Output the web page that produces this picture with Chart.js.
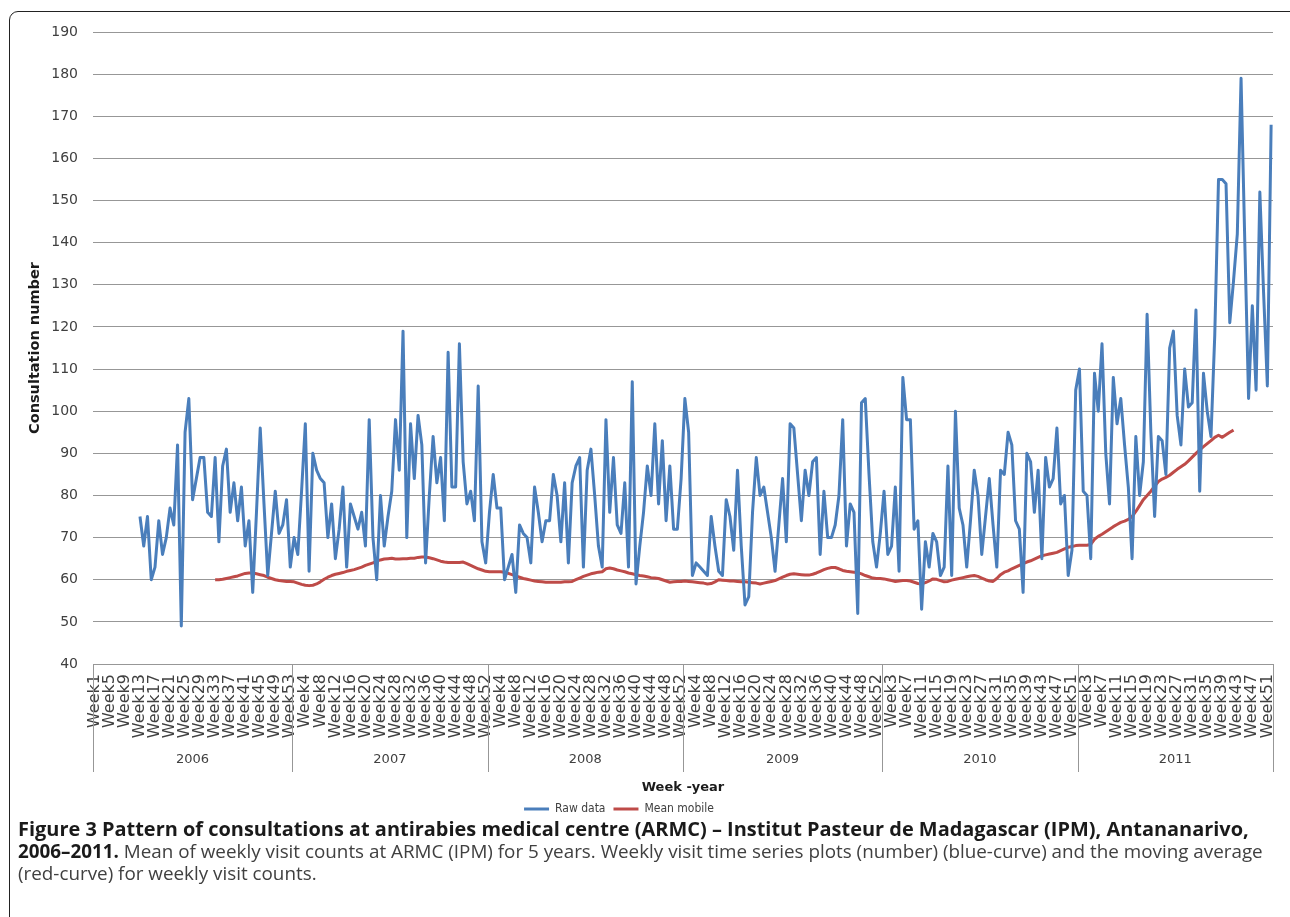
<!DOCTYPE html>
<html><head><meta charset="utf-8">
<script src="https://cdn.jsdelivr.net/npm/chart.js@4.4.1/dist/chart.umd.min.js"></script>
<style>
html,body{margin:0;padding:0;background:#fff;}
body{width:1290px;height:917px;position:relative;overflow:hidden;}
#wrap{position:absolute;left:0;top:0;width:1290px;height:917px;}
#frame{position:absolute;left:9px;top:11px;width:1300px;height:940px;border:1.5px solid #222;border-radius:9px;box-sizing:border-box;}
.cap{position:absolute;left:18px;font-family:'Open Sans',Lato,sans-serif;font-size:17px;line-height:22px;color:#404040;white-space:nowrap;}
.cap b{color:#1a1a1a;font-weight:700;}
</style></head><body>
<div id="frame"></div>
<div id="wrap"><canvas id="c" width="1290" height="917"></canvas></div>
<div class="cap" id="l1" data-w="1232" style="top:818px;"><b>Figure 3 Pattern of consultations at antirabies medical centre (ARMC) – Institut Pasteur de Madagascar (IPM), Antananarivo,</b></div>
<div class="cap" id="l2" data-w="1245" style="top:840px;"><b>2006–2011.</b> Mean of weekly visit counts at ARMC (IPM) for 5 years. Weekly visit time series plots (number) (blue-curve) and the moving average</div>
<div class="cap" id="l3" style="top:862px;">(red-curve) for weekly visit counts.</div>
<script>
// ---- categories ----
const years = ['2006', '2007', '2008', '2009', '2010', '2011'];
const weeksPerYear = [53, 52, 52, 53, 52, 52];

// ---- Raw data (weekly consultations) ----
const raw2006 = [null, null, null, null, null, null, null, null, null, null, null, null,
  75, 68, 75, 60, 63, 74, 66, 70, 77, 73, 92, 49, 95, 103, 79, 84, 89, 89, 76, 75, 89, 69, 87, 91,
  76, 83, 74, 82, 68, 74, 57, 76, 96, 78, 61, 71, 81, 71, 73, 79, 63];
const raw2007 = [70, 66, 81, 97, 62, 90, 86, 84, 83, 70, 78, 65, 72, 82, 63, 78, 75, 72, 76, 68,
  98, 70, 60, 80, 68, 75, 81, 98, 86, 119, 70, 97, 84, 99, 92, 64, 80, 94, 83, 89,
  74, 114, 82, 82, 116, 88, 78, 81, 74, 106, 69, 64];
const raw2008 = [76, 85, 77, 77, 60, 63, 66, 57, 73, 71, 70, 64, 82, 76, 69, 74, 74, 85, 80, 69,
  83, 64, 83, 87, 89, 63, 86, 91, 80, 68, 63, 98, 76, 89, 73, 71, 83, 63, 107, 59,
  68, 76, 87, 80, 97, 78, 93, 74, 87, 72, 72, 84];
const raw2009 = [103, 95, 61, 64, 63, 62, 61, 75, 68, 62, 61, 79, 75, 67, 86, 68, 54, 56, 76, 89,
  80, 82, 76, 70, 62, 73, 84, 69, 97, 96, 85, 74, 86, 80, 88, 89, 66, 81, 70, 70,
  73, 80, 98, 68, 78, 76, 52, 102, 103, 85, 69, 63, 71];
const raw2010 = [81, 66, 68, 82, 62, 108, 98, 98, 72, 74, 53, 69, 63, 71, 69, 61, 63, 87, 61, 100,
  77, 73, 63, 74, 86, 80, 66, 75, 84, 73, 63, 86, 85, 95, 92, 74, 72, 57, 90, 88,
  76, 86, 65, 89, 82, 84, 96, 78, 80, 61, 67, 105];
const raw2011 = [110, 81, 80, 65, 109, 100, 116, 90, 78, 108, 97, 103, 92, 82, 65, 94, 80, 88, 123, 95,
  75, 94, 93, 85, 115, 119, 99, 92, 110, 101, 102, 124, 81, 109, 100, 94, 118, 155, 155, 154,
  121, 131, 142, 179, 140, 103, 125, 105, 152, 128, 106, 168];

// ---- Mean mobile (moving average) ----
const mean2006 = [null, null, null, null, null, null, null, null, null, null, null, null, null, null, null, null,
  null, null, null, null, null, null, null, null, null, null, null, null, null, null, null, null,
  60, 60, 60.1, 60.3, 60.5, 60.7, 60.9, 61.2, 61.5, 61.6, 61.6, 61.4, 61.2, 61, 60.6, 60.3, 60, 59.8, 59.7, 59.6, 59.6];
const mean2007 = [59.5, 59.2, 58.9, 58.7, 58.6, 58.7, 59.0, 59.5, 60.1, 60.6, 61.0, 61.3, 61.5, 61.7, 62.0, 62.2, 62.4, 62.7, 63.0, 63.4,
  63.7, 64.0, 64.4, 64.7, 64.9, 65.0, 65.1, 64.9, 64.9, 65.0, 65.0, 65.1, 65.1, 65.3, 65.4, 65.4, 65.2, 65.0, 64.7, 64.4,
  64.2, 64.1, 64.1, 64.1, 64.1, 64.2, 63.8, 63.4, 63.0, 62.6, 62.3, 62.0];
const mean2008 = [61.9, 61.9, 61.9, 61.9, 61.8, 61.5, 61.2, 60.9, 60.6, 60.3, 60.1, 59.9, 59.7, 59.6, 59.5, 59.4, 59.4, 59.4, 59.4, 59.4,
  59.5, 59.5, 59.6, 60.0, 60.4, 60.8, 61.1, 61.4, 61.6, 61.8, 61.9, 62.6, 62.8, 62.6, 62.3, 62.1, 61.9, 61.6, 61.4, 61.2,
  61.0, 60.9, 60.7, 60.5, 60.4, 60.3, 60.0, 59.7, 59.4, 59.5, 59.6, 59.6];
const mean2009 = [59.7, 59.6, 59.5, 59.4, 59.3, 59.2, 59.0, 59.1, 59.5, 60.0, 59.9, 59.8, 59.7, 59.7, 59.6, 59.5, 59.5, 59.4, 59.3, 59.2,
  59.0, 59.2, 59.4, 59.6, 59.8, 60.2, 60.6, 61.0, 61.3, 61.4, 61.3, 61.2, 61.1, 61.1, 61.3, 61.6, 62.0, 62.4, 62.7, 62.9,
  62.9, 62.6, 62.2, 62.0, 61.9, 61.8, 61.7, 61.4, 61.0, 60.7, 60.4, 60.3, 60.3];
const mean2010 = [60.2, 60.0, 59.8, 59.6, 59.7, 59.8, 59.8, 59.7, 59.4, 59.1, 59.0, 59.3, 59.7, 60.2, 60.1, 59.8, 59.5, 59.6, 59.9, 60.1,
  60.3, 60.5, 60.7, 60.9, 61.0, 60.8, 60.4, 60.0, 59.7, 59.6, 60.3, 61.2, 61.8, 62.1, 62.6, 63.0, 63.4, 63.8, 64.2, 64.5,
  64.9, 65.3, 65.7, 65.9, 66.1, 66.3, 66.5, 66.9, 67.3, 67.7, 67.9, 68.1];
const mean2011 = [68.2, 68.2, 68.2, 68.4, 69.6, 70.3, 70.8, 71.4, 72.0, 72.6, 73.1, 73.6, 73.9, 74.3, 75.0, 76.2, 77.6, 79.0, 80.0, 81.0,
  82.2, 83.3, 83.9, 84.3, 84.8, 85.5, 86.2, 86.8, 87.4, 88.2, 89.1, 90.0, 90.8, 91.6, 92.3, 93.0, 93.8, 94.3, 93.8, 94.4,
  95.0, 95.5, null, null, null, null, null, null, null, null, null, null];

// ---- y tick range ----
const yMin = 40, yMax = 190, yStep = 10;

// ---- assemble ----
const weekLabels = [];
weeksPerYear.forEach(n => { for (let w = 1; w <= n; w++) weekLabels.push('Week' + w); });
const rawData = [].concat(raw2006, raw2007, raw2008, raw2009, raw2010, raw2011);
const meanData = [].concat(mean2006, mean2007, mean2008, mean2009, mean2010, mean2011);

const GRID = '#979797';
const TXT = '#404040';

const yearRow = {
  id: 'yearRow',
  afterLayout(chart) {
    // legend sits left of the plot centre, as in the figure
    if (chart.legend) { chart.legend.left -= 31; chart.legend.right -= 31; }
  },
  afterDraw(chart) {
    const xs = chart.scales.x, ca = chart.chartArea, ctx = chart.ctx;
    const n = weekLabels.length;
    const cw = xs.getPixelForValue(1) - xs.getPixelForValue(0);
    const edge = i => (i < n ? xs.getPixelForValue(i) - cw / 2 : xs.getPixelForValue(n - 1) + cw / 2);
    const bounds = [0];
    weeksPerYear.forEach(w => bounds.push(bounds[bounds.length - 1] + w));
    ctx.save();
    ctx.strokeStyle = GRID;
    ctx.lineWidth = 1;
    bounds.forEach(b => {
      const x = Math.round(edge(b)) + 0.5;
      ctx.beginPath();
      ctx.moveTo(x, ca.bottom);
      ctx.lineTo(x, ca.bottom + 108);
      ctx.stroke();
    });
    ctx.fillStyle = TXT;
    ctx.font = '13px "DejaVu Sans"';
    ctx.textAlign = 'center';
    ctx.textBaseline = 'middle';
    years.forEach((y, k) => {
      ctx.fillText(y, (edge(bounds[k]) + edge(bounds[k + 1])) / 2, ca.bottom + 96);
    });
    ctx.restore();
  }
};

new Chart(document.getElementById('c'), {
  type: 'line',
  data: {
    labels: weekLabels,
    datasets: [
      { label: 'Raw data', data: rawData, borderColor: '#4A7EBB', backgroundColor: '#4A7EBB',
        borderWidth: 3, pointRadius: 0, tension: 0, borderJoinStyle: 'round', spanGaps: false },
      { label: 'Mean mobile', data: meanData, borderColor: '#BE4B48', backgroundColor: '#BE4B48',
        borderWidth: 3, pointRadius: 0, tension: 0, borderJoinStyle: 'round', spanGaps: false }
    ]
  },
  options: {
    responsive: false,
    animation: false,
    devicePixelRatio: 1,
    layout: { padding: { left: 27, right: 17, top: 32, bottom: 92 } },
    plugins: {
      tooltip: { enabled: false },
      legend: {
        position: 'bottom',
        labels: {
          usePointStyle: true, pointStyle: 'line', pointStyleWidth: 25,
          color: TXT, padding: 8,
          font: { family: '"Liberation Sans Narrow", "DejaVu Sans Condensed", "Liberation Sans", sans-serif', size: 12 }
        }
      }
    },
    scales: {
      x: {
        type: 'category',
        offset: true,
        grid: { display: false, drawTicks: false },
        border: { display: true, color: GRID },
        ticks: {
          autoSkip: false, minRotation: 90, maxRotation: 90, padding: 10,
          color: TXT, font: { family: '"DejaVu Sans"', size: 16 },
          callback: function (v, i) { return i % 4 === 0 ? this.getLabelForValue(v) : null; }
        },
        title: { display: true, text: 'Week -year', color: '#1a1a1a', padding: 0,
          font: { family: '"DejaVu Sans"', size: 13, weight: 'bold' } },
        afterFit: s => { s.height = 131; s.paddingLeft = 0; s.paddingRight = 0; }
      },
      y: {
        min: yMin, max: yMax,
        grid: { color: GRID, lineWidth: 1, drawTicks: false },
        border: { display: false },
        ticks: { stepSize: yStep, padding: 15, color: TXT, font: { family: '"DejaVu Sans"', size: 14 } },
        title: { display: true, text: 'Consultation number', color: '#1a1a1a', padding: 0,
          font: { family: '"DejaVu Sans"', size: 14.5, weight: 'bold' } },
        afterFit: s => { s.width = 66; }
      }
    }
  },
  plugins: [yearRow]
});

// fit caption lines to their widths in the figure
document.fonts.ready.then(() => {
  ['l1', 'l2'].forEach(id => {
    const el = document.getElementById(id);
    const target = +el.dataset.w;
    const w = el.getBoundingClientRect().width;
    const fs = 17 * target / w;
    el.style.fontSize = fs + 'px';
    if (id === 'l2') document.getElementById('l3').style.fontSize = fs + 'px';
  });
});
</script>
</body></html>
